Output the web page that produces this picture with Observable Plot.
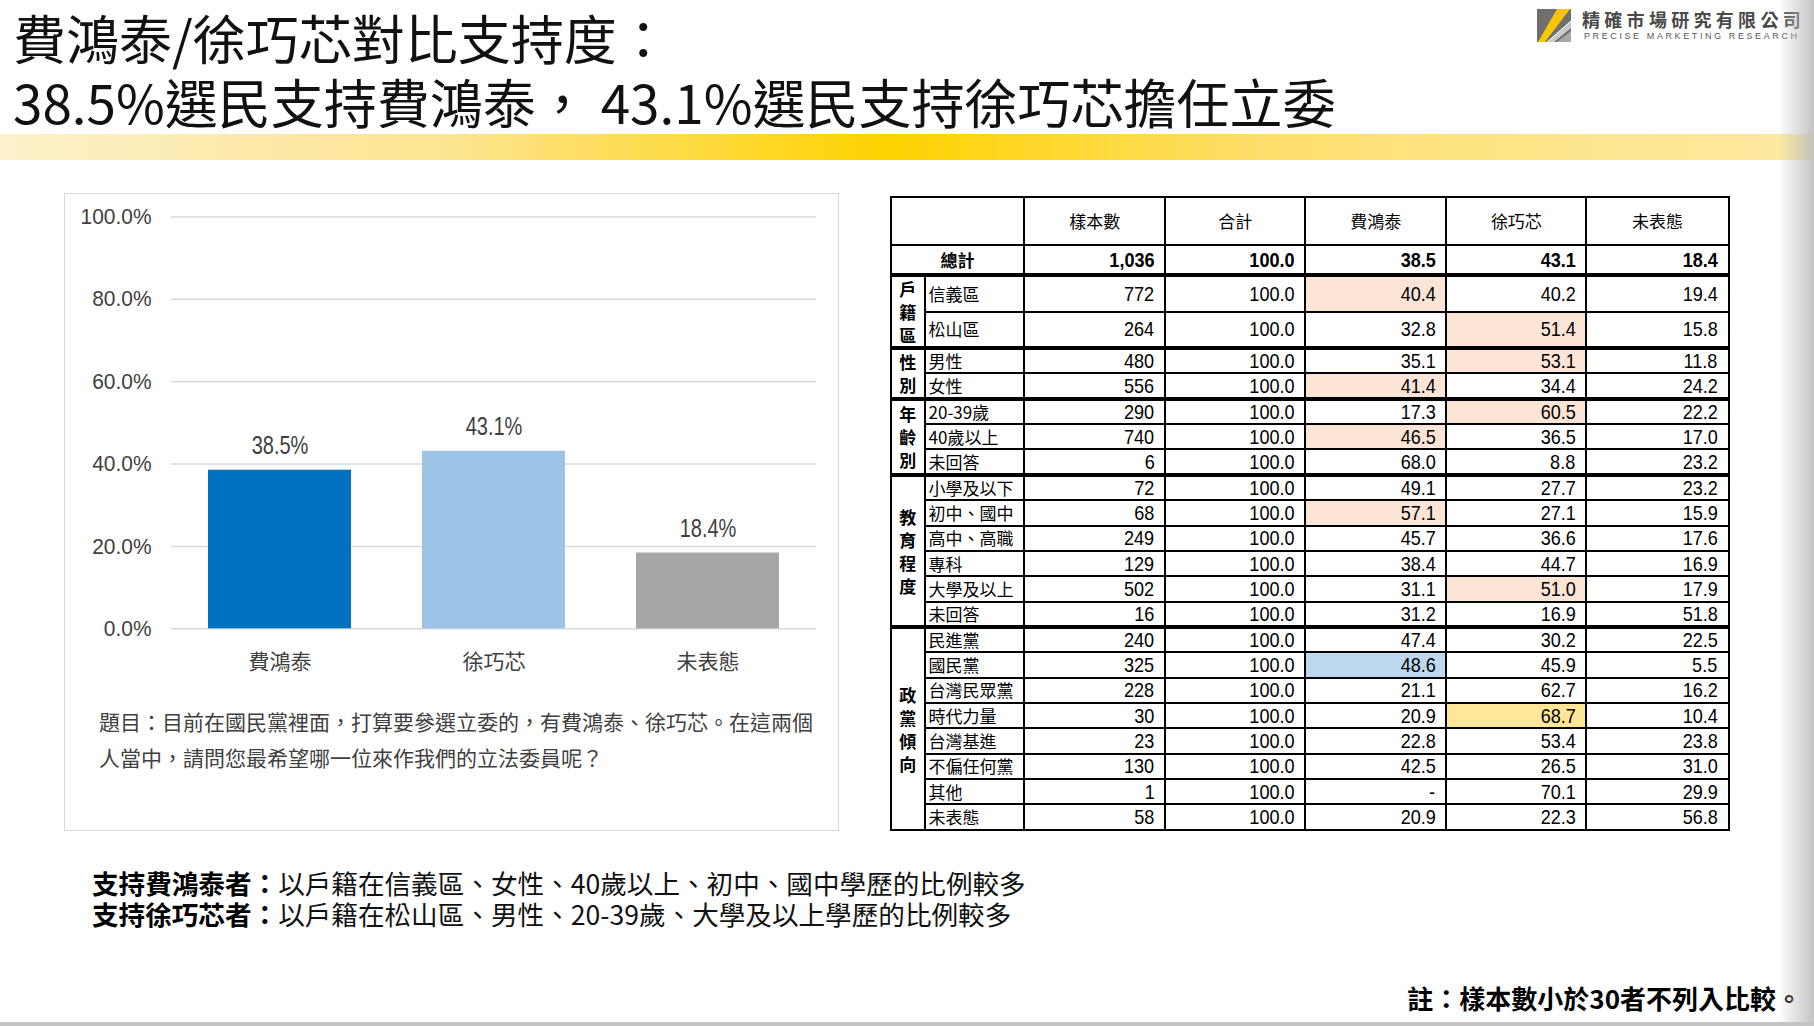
<!DOCTYPE html>
<html>
<head>
<meta charset="utf-8">
<script src="https://cdn.jsdelivr.net/npm/d3@7"></script>
<script src="https://cdn.jsdelivr.net/npm/@observablehq/plot@0.6"></script>
<style>
  html, body { margin: 0; padding: 0; background: #fff; }
  body { width: 1814px; height: 1026px; position: relative; overflow: hidden;
         font-family: "Noto Sans CJK TC", "Noto Sans", sans-serif; color: #000; }
  .title { position: absolute; left: 13px; font-size: 53px; line-height: 64px; white-space: nowrap; color: #111; }
  .band { position: absolute; left: 0; top: 134px; width: 1814px; height: 26px;
          background: linear-gradient(to right, #fdf1cb 0%, #fde48f 25%, #ffd200 49%, #fedf6e 70%, #fdeaa4 100%); }
  .shade { position: absolute; right: 0; top: 0; width: 36px; height: 1026px;
           background: linear-gradient(to right, rgba(200,200,200,0), rgba(190,190,190,0.9)); }
  .bottomline { position: absolute; left: 0; bottom: 0; width: 1814px; height: 4px; background: #c4c4c4; }
  .logo-cn { position: absolute; left: 1582px; top: 7px; font-size: 18px; line-height: 24px; font-weight: bold; letter-spacing: 4.3px; color: #4a4a4a; white-space: nowrap; }
  .logo-en { position: absolute; left: 1584px; top: 31px; font-family: "Liberation Sans", "DejaVu Sans", sans-serif; font-size: 9px; line-height: 11px; letter-spacing: 2.6px; color: #555; white-space: nowrap; }
  .logo-icon { position: absolute; left: 1537px; top: 9px; }
  .chartbox { position: absolute; left: 64px; top: 193px; width: 773px; height: 636px; border: 1px solid #d9d9d9; }
  .question { margin: 19px 0 0 34px; font-size: 21px; line-height: 36px; color: #404040; white-space: nowrap; }
  table.xt { position: absolute; left: 890px; top: 196px; border-collapse: collapse; table-layout: fixed; width: 837px;
             font-size: 17px; color: #000; }
  table.xt td { border: 2px solid #000; padding: 0; overflow: hidden; white-space: nowrap; line-height: 20px; }
  table.xt td.num { text-align: right; padding-right: 10px; font-family: "Liberation Sans", sans-serif; font-size: 21px; }
  table.xt td.num span { display: inline-block; transform: scaleX(0.86); transform-origin: right center; }
  table.xt td.lab { text-align: left; padding-left: 3px; font-size: 17px; }
  table.xt td.hdr { text-align: center; font-size: 17px; }
  table.xt td.grp { text-align: center; font-weight: bold; font-size: 17px; line-height: 23px; vertical-align: middle; }
  table.xt tr.gstart td { border-top: 4px solid #000; }
  .summary { position: absolute; left: 92px; top: 867px; font-size: 26.6px; line-height: 31px; color: #111; white-space: nowrap; }
  .summary b { font-weight: bold; color: #000; }
  .note { position: absolute; right: 12px; top: 983px; font-size: 26px; line-height: 30px; font-weight: bold; color: #000; white-space: nowrap; }
</style>
</head>
<body>
<div class="title" style="top:5px">費鴻泰/徐巧芯對比支持度：</div>
<div class="title" style="top:69px">38.5%選民支持費鴻泰，&nbsp;43.1%選民支持徐巧芯擔任立委</div>
<div class="band"></div>

<svg class="logo-icon" width="34" height="33" viewBox="0 0 34 33">
  <rect x="0" y="0" width="34" height="33" fill="#6f6f6f"/>
  <polygon points="20,0 33,0 8,33 1,33" fill="#f7c600"/>
  <polygon points="11,33 34,13 34,19 17,33" fill="#c9c9c9"/>
  <polygon points="20,33 34,22 34,33" fill="#a8a8a8"/>
  <polygon points="9.5,33 34,11.5 34,13 11,33" fill="#ffffff"/>
</svg>
<div class="logo-cn">精確市場研究有限公司</div>
<div class="logo-en">PRECISE MARKETING RESEARCH</div>

<div class="chartbox">
  <div id="chart"></div>
  <div class="question">題目：目前在國民黨裡面，打算要參選立委的，有費鴻泰、徐巧芯。在這兩個<br>人當中，請問您最希望哪一位來作我們的立法委員呢？</div>
</div>

<table class="xt" id="xt"></table>

<div class="summary"><b>支持費鴻泰者：</b>以戶籍在信義區、女性、40歲以上、初中、國中學歷的比例較多<br><b>支持徐巧芯者：</b>以戶籍在松山區、男性、20-39歲、大學及以上學歷的比例較多</div>
<div class="note">註：樣本數小於30者不列入比較。</div>

<div class="shade"></div>
<div class="bottomline"></div>

<script>
// ---------- bar chart data ----------
const candidates = ["費鴻泰", "徐巧芯", "未表態"];
const support = [38.5, 43.1, 18.4];
const barColors = ["#0070c0", "#9dc3e6", "#a6a6a6"];
const yTicks = [0, 20, 40, 60, 80, 100];

// ---------- crosstab data ----------
const columnHeaders = ["樣本數", "合計", "費鴻泰", "徐巧芯", "未表態"];
const totalRow = [1036, 100.0, 38.5, 43.1, 18.4];
const groupNames = ["戶籍區", "性別", "年齡別", "教育程度", "政黨傾向"];
const rowLabels = [
  ["信義區", "松山區"],
  ["男性", "女性"],
  ["20-39歲", "40歲以上", "未回答"],
  ["小學及以下", "初中、國中", "高中、高職", "專科", "大學及以上", "未回答"],
  ["民進黨", "國民黨", "台灣民眾黨", "時代力量", "台灣基進", "不偏任何黨", "其他", "未表態"]
];
const sampleSizes = [
  [772, 264], [480, 556], [290, 740, 6], [72, 68, 249, 129, 502, 16],
  [240, 325, 228, 30, 23, 130, 1, 58]
];
const rowTotals = [
  [100.0, 100.0], [100.0, 100.0], [100.0, 100.0, 100.0], [100.0, 100.0, 100.0, 100.0, 100.0, 100.0],
  [100.0, 100.0, 100.0, 100.0, 100.0, 100.0, 100.0, 100.0]
];
const feiShare = [
  [40.4, 32.8], [35.1, 41.4], [17.3, 46.5, 68.0], [49.1, 57.1, 45.7, 38.4, 31.1, 31.2],
  [47.4, 48.6, 21.1, 20.9, 22.8, 42.5, null, 20.9]
];
const hsuShare = [
  [40.2, 51.4], [53.1, 34.4], [60.5, 36.5, 8.8], [27.7, 27.1, 36.6, 44.7, 51.0, 16.9],
  [30.2, 45.9, 62.7, 68.7, 53.4, 26.5, 70.1, 22.3]
];
const undecidedShare = [
  [19.4, 15.8], [11.8, 24.2], [22.2, 17.0, 23.2], [23.2, 15.9, 17.6, 16.9, 17.9, 51.8],
  [22.5, 5.5, 16.2, 10.4, 23.8, 31.0, 29.9, 56.8]
];
// highlighted cells: [group, row, column (2 = 費鴻泰, 3 = 徐巧芯), kind]
const highlights = [
  [0, 0, 2, "high"], [0, 1, 3, "high"], [1, 0, 3, "high"], [1, 1, 2, "high"],
  [2, 0, 3, "high"], [2, 1, 2, "high"], [3, 1, 2, "high"], [3, 4, 3, "high"],
  [4, 1, 2, "party"], [4, 3, 3, "top"]
];
const highlightColors = { high: "#fce4d6", party: "#bdd7ee", top: "#ffe699" };

// ---------- chart ----------
const barData = candidates.map((name, i) => ({ name, value: support[i] }));
const numFont = '"Liberation Sans", Arial, sans-serif';
const chart = Plot.plot({
  width: 773,
  height: 490,
  marginLeft: 106,
  marginRight: 22,
  marginTop: 22.4,
  marginBottom: 55.7,
  style: { fontFamily: '"Noto Sans CJK TC", sans-serif', background: "transparent", overflow: "visible" },
  x: { domain: candidates, paddingInner: 0.333, paddingOuter: 0.1667, label: null },
  y: { domain: [0, 100], label: null },
  color: { domain: candidates, range: barColors },
  marks: [
    Plot.gridY(yTicks, { stroke: "#d9d9d9", strokeOpacity: 1, strokeWidth: 1.5 }),
    Plot.barY(barData, { x: "name", y: "value", fill: "name" }),
    Plot.text(barData, { x: "name", y: "value", text: d => d.value.toFixed(1) + "%", dy: -24,
      fontSize: 25, fontFamily: numFont, fill: "#404040", className: "narrow80" }),
    Plot.axisY({ ticks: yTicks, tickSize: 0, tickPadding: 20, tickFormat: d => d.toFixed(1) + "%",
      fontSize: 22.5, fontFamily: numFont, fill: "#404040", label: null, className: "narrow93" }),
    Plot.axisX({ tickSize: 0, tickPadding: 25, fontSize: 21, fill: "#404040", label: null })
  ]
});
document.getElementById("chart").appendChild(chart);
// condense numeric labels to mimic the narrow number face of the original
[["narrow80", 0.8], ["narrow93", 0.93]].forEach(([cls, k]) => {
  d3.select(chart).selectAll(`g[aria-label] text`).each(function () {
    const g = this.closest("g." + cls) || this.parentNode.closest("." + cls);
    if (!g) return;
    const len = this.getComputedTextLength();
    this.setAttribute("textLength", len * k);
    this.setAttribute("lengthAdjust", "spacingAndGlyphs");
  });
});

// ---------- table ----------
const colWidths = [33.6, 99.5, 141.1, 140.0, 141.2, 140.0, 142.3];
const fmtN = n => n.toLocaleString("en-US");
const fmtP = v => (v == null ? "-" : v.toFixed(1));
const tbl = d3.select("#xt");
const cg = tbl.append("colgroup");
colWidths.forEach(w => cg.append("col").style("width", w + "px"));

const rowsSel = [];
const hr = tbl.append("tr").style("height", "48px");
hr.append("td").attr("colspan", 2).attr("class", "hdr");
columnHeaders.forEach(h => hr.append("td").attr("class", "hdr").text(h));

const tr0 = tbl.append("tr").style("height", "30px");
tr0.append("td").attr("colspan", 2).attr("class", "hdr").style("font-weight", "bold").text("總計");
totalRow.forEach((v, j) => tr0.append("td").attr("class", "num").style("font-weight", "bold")
  .append("span").text(j === 0 ? fmtN(v) : fmtP(v)));

groupNames.forEach((g, gi) => {
  rowLabels[gi].forEach((lab, ri) => {
    const h0 = gi === 0 ? 31 : 25.64;
    const tr = tbl.append("tr").attr("class", ri === 0 ? "gstart" : null).style("height", h0 + "px");
    rowsSel.push([tr, h0]);
    if (ri === 0) {
      tr.append("td").attr("class", "grp").attr("rowspan", rowLabels[gi].length)
        .html(g.split("").join("<br>"));
    }
    tr.append("td").attr("class", "lab").text(lab);
    const vals = [fmtN(sampleSizes[gi][ri]), fmtP(rowTotals[gi][ri]), fmtP(feiShare[gi][ri]),
                  fmtP(hsuShare[gi][ri]), fmtP(undecidedShare[gi][ri])];
    vals.forEach((v, j) => {
      const h = highlights.find(x => x[0] === gi && x[1] === ri && x[2] === j);
      tr.append("td").attr("class", "num")
        .style("background", h ? highlightColors[h[3]] : null).append("span").text(v);
    });
  });
});
// fit the table to its target height (196 → 831)
for (let it = 0; it < 3; it++) {
  const hNow = document.getElementById("xt").getBoundingClientRect().height;
  const diff = hNow - 635;
  if (Math.abs(diff) < 0.5) break;
  rowsSel.forEach(r => { r[1] = r[1] - diff / rowsSel.length; r[0].style("height", r[1] + "px"); });
}
</script>
</body>
</html>
